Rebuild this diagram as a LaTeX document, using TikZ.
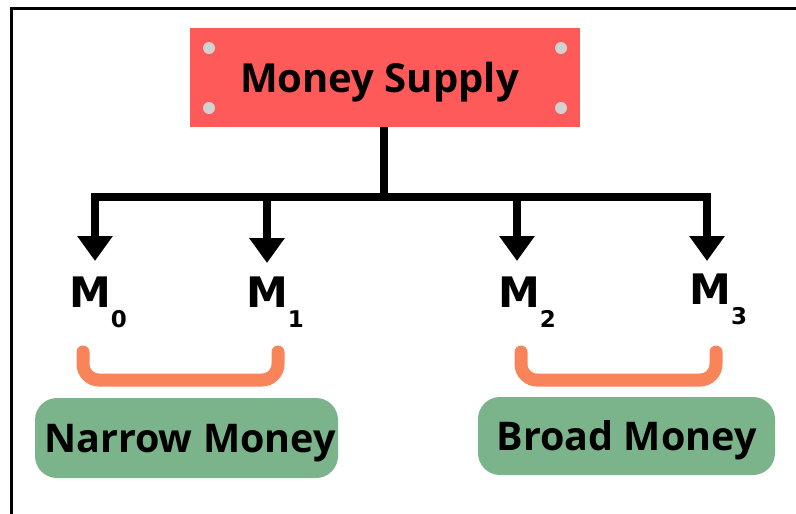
\documentclass[tikz,border=0pt]{standalone}
\usepackage{fontspec}
\setmainfont{Open Sans}
\newfontfamily\djv{DejaVu Sans}
\usetikzlibrary{arrows.meta}
\definecolor{boxred}{HTML}{FF5A5A}
\definecolor{dotgray}{HTML}{D2D2D2}
\definecolor{brk}{HTML}{F9845A}
\definecolor{grn}{HTML}{7BB48A}
\newcommand{\subsc}[1]{\raisebox{-20pt}{\fontsize{23}{23}\selectfont #1}}
\begin{document}
\begin{tikzpicture}[x=1pt,y=-1pt,
  bar/.style={line width=8pt, line join=miter},
  tipped/.style={-{Triangle[width=34pt,length=25pt]}},
  mlabel/.style={anchor=base west, inner sep=0pt, font=\djv\bfseries\fontsize{42}{42}\selectfont},
  greenbox/.style={fill=grn, rounded corners=22pt, inner sep=0pt, text height=28pt, text depth=0pt, font=\bfseries\fontsize{39.5}{44}\selectfont},
  bracket/.style={draw=brk, line width=13pt, line cap=round, rounded corners=16pt},
  dot/.style={fill=dotgray}]
\useasboundingbox (0,0) rectangle (796,514);
% frame
\draw[line width=3pt] (11.5,514) -- (11.5,8.5) -- (796,8.5);
% title box
\node[fill=boxred, minimum width=390pt, minimum height=99pt, inner sep=0pt, text height=29pt, text depth=0pt,
  font=\bfseries\fontsize{40}{48}\selectfont] (ms) at (385,77.5) {\hspace*{-11pt}Money Supply};
\fill[dot] (209,48) circle (6pt);
\fill[dot] (561,48) circle (6pt);
\fill[dot] (209,108) circle (6pt);
\fill[dot] (561,108) circle (6pt);
% labels
\node[mlabel] (m0) at (69,307) {M\subsc{0}};
\node[mlabel] (m1) at (246,307) {M\subsc{1}};
\node[mlabel] (m2) at (498,307) {M\subsc{2}};
\node[mlabel] (m3) at (689,304) {M\subsc{3}};
% tips
\coordinate (t0) at (95,261);
\coordinate (t1) at (267,263);
\coordinate (t2) at (517,261);
\coordinate (t3) at (707,261);
\coordinate (j) at (384,197);
% connectors
\draw[bar] (ms.south -| j) -- (j);
\draw[bar,tipped] (j) -| (t0);
\draw[bar,tipped] (j) -| (t3);
\draw[bar,tipped] (t1 |- j) -- (t1);
\draw[bar,tipped] (t2 |- j) -- (t2);
% brackets
\draw[bracket] (83,352) -- (83,380) -- (278,380) -- (278,352);
\draw[bracket] (521,352) -- (521,380) -- (716,380) -- (716,352);
% green boxes
\node[greenbox, minimum width=303pt, minimum height=80pt] (narrow) at (186.5,438) {\hspace*{7pt}Narrow Money};
\node[greenbox, minimum width=297pt, minimum height=78pt] (broad) at (626.5,436) {Broad Money};
\end{tikzpicture}
\end{document}
